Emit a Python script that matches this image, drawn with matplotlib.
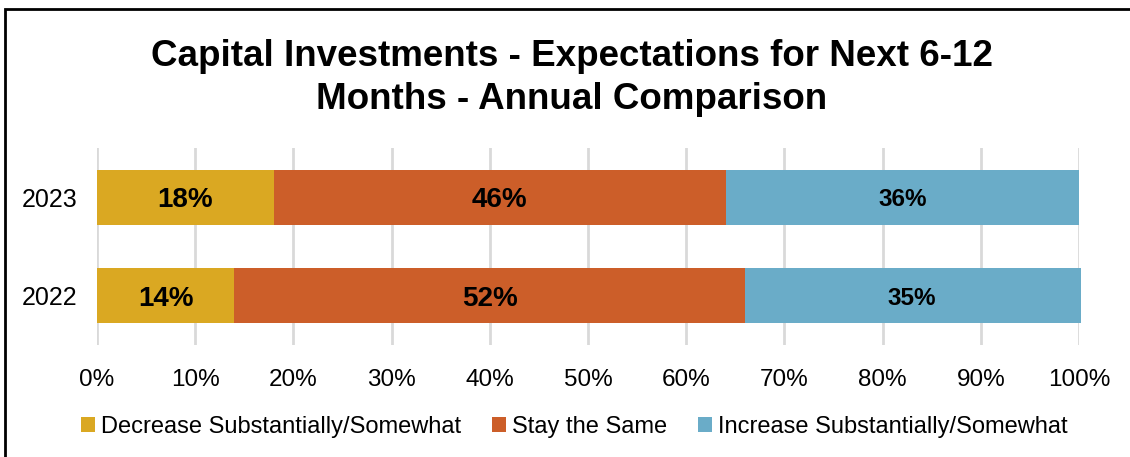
import matplotlib.pyplot as plt
import matplotlib.patches as mpatches
import numpy as np

plt.rcParams['font.family'] = ['Liberation Sans', 'DejaVu Sans']

years = ['2023', '2022']
decrease = [18, 14]
same = [46, 52]
increase = [36, 34.2]
decrease_lbl = ['18%', '14%']
same_lbl = ['46%', '52%']
increase_lbl = ['36%', '35%']
series_names = ['Decrease Substantially/Somewhat', 'Stay the Same', 'Increase Substantially/Somewhat']
colors = ['#DAA822', '#CC5E29', '#6AACC8']

fig = plt.figure(figsize=(11.3, 4.57), dpi=100)
ax = fig.add_axes([0.0858, 0.245, 0.955 - 0.0858, 0.676 - 0.245])

y = np.array([1, 0])
h = 0.56
left = np.zeros(2)
bars = []
for vals, c, name in zip([decrease, same, increase], colors, series_names):
    b = ax.barh(y, vals, height=h, left=left, color=c, label=name, clip_on=False, zorder=3)
    bars.append(b)
    left = left + np.array(vals)

txts = []
txts += ax.bar_label(bars[0], labels=decrease_lbl, label_type='center', fontsize=20, fontweight='bold')
txts += ax.bar_label(bars[1], labels=same_lbl, label_type='center', fontsize=20, fontweight='bold')
txts += ax.bar_label(bars[2], labels=increase_lbl, label_type='center', fontsize=17.5, fontweight='bold')
for t in txts:
    t.set_va('center_baseline')

ax.set_xlim(0, 100)
ax.set_ylim(-0.5, 1.5)
ax.set_xticks(np.arange(0, 101, 10))
ax.set_xticklabels([f'{v}%' for v in range(0, 101, 10)], fontsize=17.5)
ax.set_yticks(y)
ax.set_yticklabels(years, fontsize=18)
ax.tick_params(axis='x', length=0, pad=17)
ax.tick_params(axis='y', length=0, pad=14)
ax.grid(axis='x', color='#D9D9D9', linewidth=2, zorder=0)
ax.set_axisbelow(True)
for s in ax.spines.values():
    s.set_visible(False)

fig.suptitle('Capital Investments - Expectations for Next 6-12\nMonths - Annual Comparison',
             x=0.506, y=0.915, va='top', fontsize=26.5, fontweight='bold', linespacing=1.32)

fig.legend(loc='center', bbox_to_anchor=(0.508, 0.066), ncol=3, frameon=False, fontsize=17,
           handlelength=0.6, handleheight=0.6, handletextpad=0.25, columnspacing=1.3)

# outer frame
fig.patches.append(mpatches.Rectangle((5 / 1130, -0.1), 1.2, (457 - 9) / 457 + 0.1, transform=fig.transFigure,
                                      fill=False, edgecolor='black', linewidth=2))

plt.savefig('out.png', dpi=100)
